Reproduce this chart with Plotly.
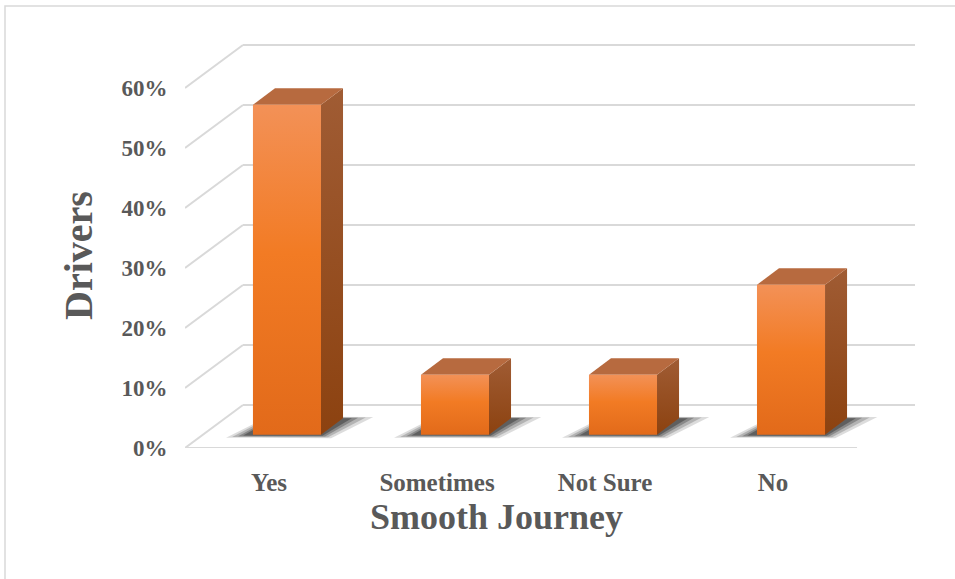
import plotly.graph_objects as go

# Survey results: share of drivers reporting a smooth journey
categories = ["Yes", "Sometimes", "Not Sure", "No"]
shares = [55, 10, 10, 25]
tick_values = [0, 10, 20, 30, 40, 50, 60]

TEXT = "#595959"
GRID = "#D9D9D9"
FONT = "Liberation Serif, Times New Roman, serif"

# pseudo-3D projection: depth offset of the floor/back wall in data units
DX, DY = 0.345, 7.17
F0, F1 = 0.31, 0.69          # bar front / back planes as fraction of depth
BW = 0.405                   # bar width in category units
X0, X1 = -0.5, len(categories) - 0.5

fig = go.Figure()


def poly(xs, ys, **kw):
    fig.add_trace(go.Scatter(x=xs + [xs[0]], y=ys + [ys[0]], mode="lines",
                             fill="toself", line=dict(width=0),
                             hoverinfo="skip", showlegend=False, **kw))


def line(xs, ys, color=GRID, width=2):
    fig.add_trace(go.Scatter(x=xs, y=ys, mode="lines",
                             line=dict(color=color, width=width),
                             hoverinfo="skip", showlegend=False))


# back wall gridlines, left wall diagonals and floor edges
for v in tick_values:
    line([X0 + DX, X1 + DX], [v + DY, v + DY])
    line([X0, X0 + DX], [v, v + DY])
line([X0, X1], [0, 0])

# soft shadows on the floor
for i, v in enumerate(shares):
    cx = i + F0 * DX
    y0 = F0 * DY
    bx, by = (F1 - F0) * DX, (F1 - F0) * DY
    for grow, alpha in [(1.0, 0.16), (0.7, 0.22), (0.4, 0.3), (0.15, 0.4)]:
        xs = [cx - BW / 2 - 0.12 * grow - 0.04, cx + BW / 2 + 0.06 * grow,
              cx + BW / 2 + bx + 0.15 * grow + 0.03, cx - BW / 2 + bx - 0.04 * grow]
        ys = [y0 - 0.4 * grow - 0.1, y0 - 0.5 * grow - 0.1,
              y0 + by + 0.2 * grow, y0 + by + 0.3 * grow]
        poly(xs, ys, fillcolor=f"rgba(35,35,35,{alpha})")

# bars: side face, top face, front face
for i, v in enumerate(shares):
    cx = i + F0 * DX
    y0 = F0 * DY
    bx, by = (F1 - F0) * DX, (F1 - F0) * DY
    L, R = cx - BW / 2, cx + BW / 2
    poly([R, R + bx, R + bx, R], [y0, y0 + by, y0 + v + by, y0 + v],
         fillcolor="#95501F",
         fillgradient=dict(type="vertical",
                           colorscale=[[0, "#8C4210"], [1, "#A05C34"]]))
    poly([L, R, R + bx, L + bx], [y0 + v, y0 + v, y0 + v + by, y0 + v + by],
         fillcolor="#B76A3F")
    poly([L, R, R, L], [y0, y0, y0 + v, y0 + v],
         fillcolor="#F07B25",
         fillgradient=dict(type="vertical",
                           colorscale=[[0, "#E26A1A"], [0.55, "#F27B24"],
                                       [1, "#F39157"]]))

fig.update_layout(
    width=955, height=579,
    margin=dict(l=185, r=40, t=43, b=131),
    paper_bgcolor="white", plot_bgcolor="white",
    xaxis=dict(range=[X0, X1 + DX], tickvals=list(range(len(categories))),
               ticktext=[f"<b>{c}</b>" for c in categories],
               showgrid=False, zeroline=False,
               showline=False, ticks="outside", ticklen=12,
               tickcolor="rgba(0,0,0,0)",
               tickfont=dict(family=FONT, size=25, color=TEXT)),
    yaxis=dict(range=[0, 67.5], tickvals=tick_values,
               ticktext=[f"<b>{v}%</b>" for v in tick_values], showgrid=False,
               zeroline=False, showline=False, ticks="outside", ticklen=12,
               tickcolor="rgba(0,0,0,0)",
               tickfont=dict(family=FONT, size=23, color=TEXT)),
    font=dict(family=FONT, color=TEXT),
    shapes=[dict(type="rect", xref="paper", yref="paper",
                 x0=(5 - 185) / 730, x1=(962 - 185) / 730,
                 y0=(448 - 590) / 405, y1=(448 - 6) / 405,
                 line=dict(color=GRID, width=1.5), layer="below")],
    annotations=[
        dict(text="<b>Smooth Journey</b>", xref="paper", yref="paper",
             x=(496 - 185) / 730, y=(448 - 517) / 405, showarrow=False,
             font=dict(family=FONT, size=36, color=TEXT),
             xanchor="center", yanchor="middle"),
        dict(text="<b>Drivers</b>", xref="paper", yref="paper",
             x=(78 - 185) / 730, y=(448 - 256) / 405, showarrow=False,
             textangle=-90, font=dict(family=FONT, size=40, color=TEXT),
             xanchor="center", yanchor="middle"),
    ],
)

fig.write_html("out.html")
